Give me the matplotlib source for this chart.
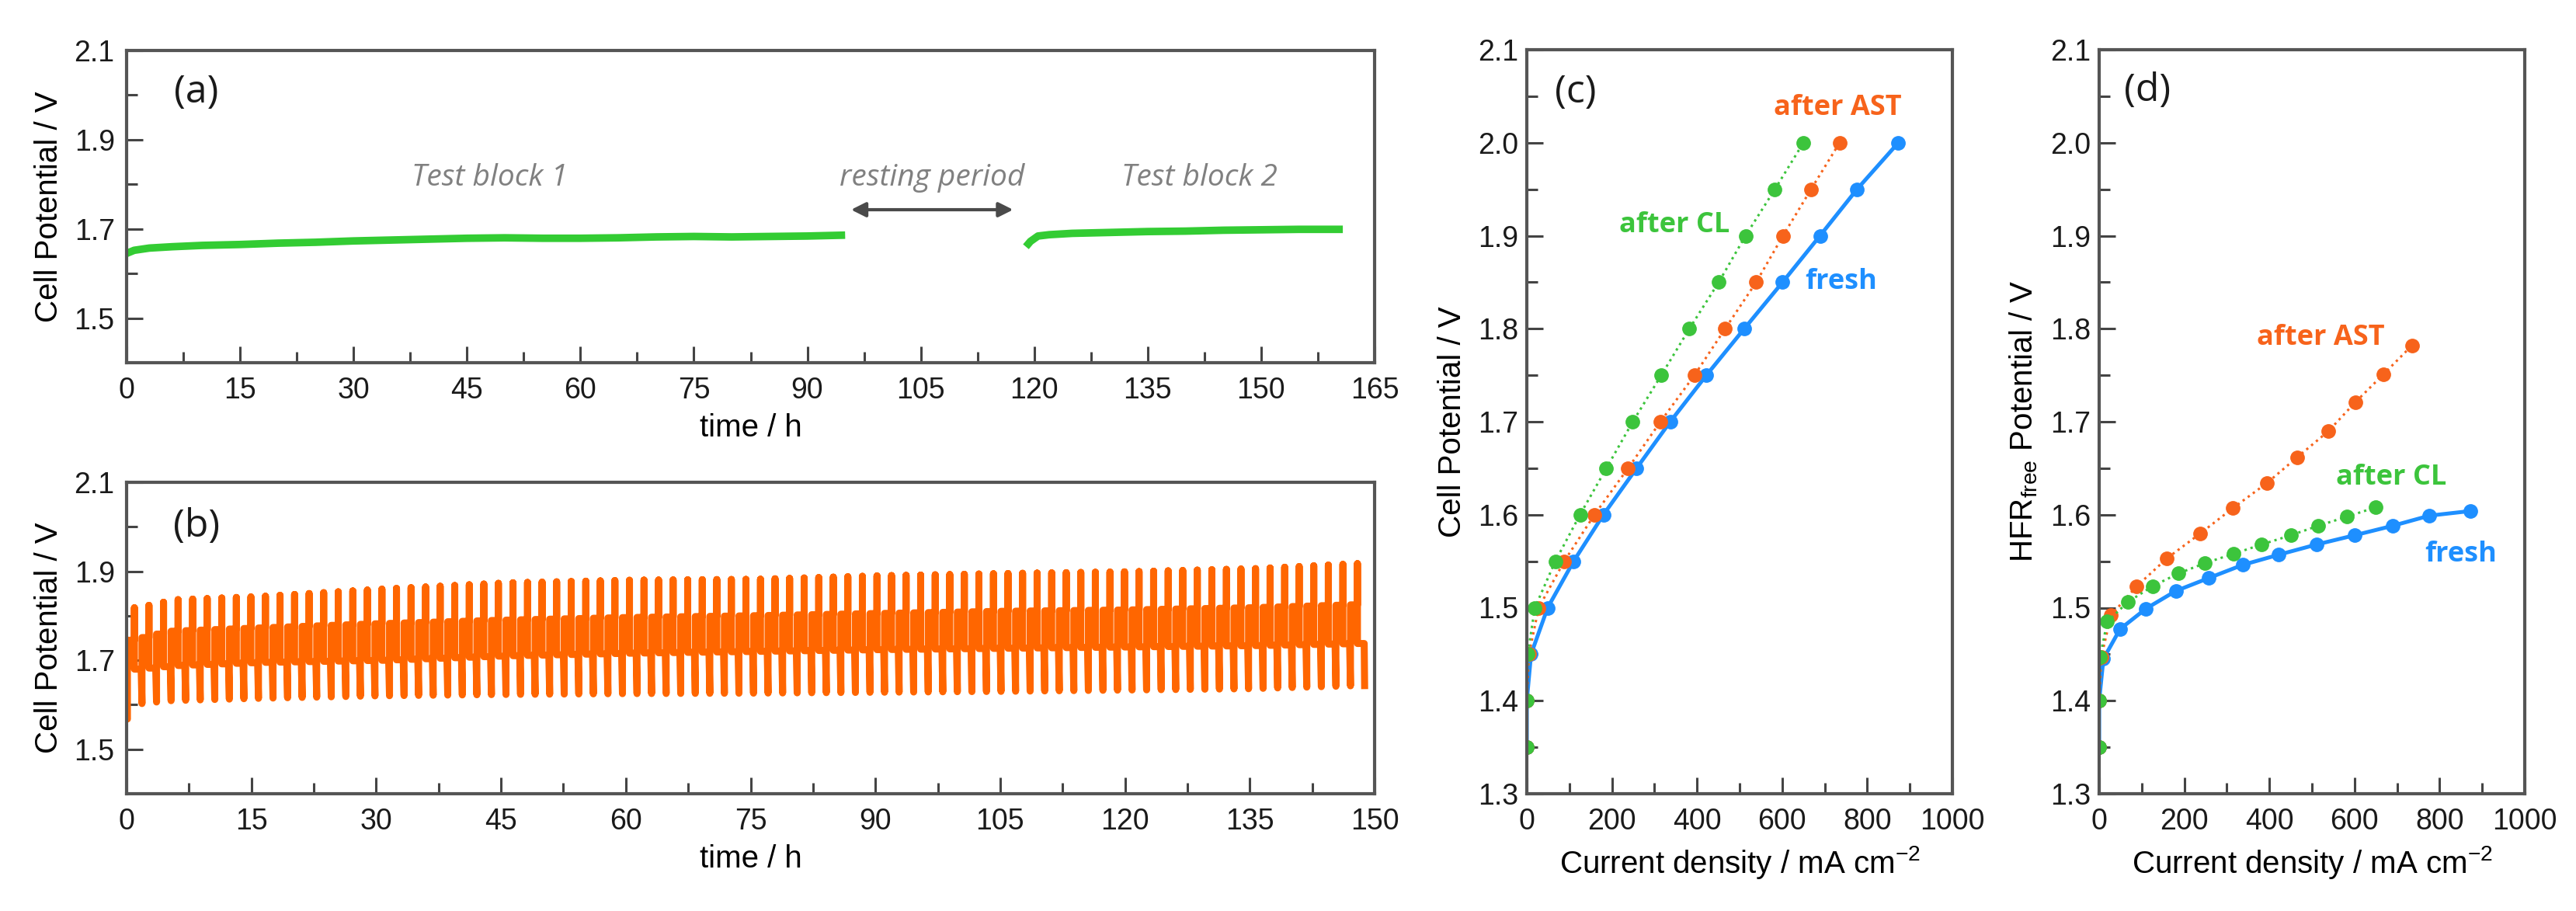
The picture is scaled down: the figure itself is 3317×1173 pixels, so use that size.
import numpy as np
import matplotlib
matplotlib.use("Agg")
import matplotlib.pyplot as plt
from matplotlib.ticker import MultipleLocator, FormatStrFormatter

plt.rcParams['font.family'] = ['Liberation Sans', 'DejaVu Sans']
plt.rcParams['mathtext.default'] = 'regular'

# --- (a) continuous operation, two test blocks ---
t_block1 = [0, 1, 3, 6, 10, 15, 20, 25, 30, 35, 40, 45, 50, 55, 60, 65, 70, 75, 80, 85, 90, 95]
v_block1 = [1.645, 1.652, 1.657, 1.660, 1.663, 1.665, 1.668, 1.670, 1.673, 1.675, 1.677,
            1.679, 1.680, 1.679, 1.679, 1.680, 1.682, 1.683, 1.682, 1.683, 1.684, 1.686]
t_block2 = [118.9, 119.5, 120.5, 122, 125, 130, 135, 140, 145, 150, 155, 160.8]
v_block2 = [1.660, 1.672, 1.684, 1.687, 1.690, 1.692, 1.694, 1.695, 1.697, 1.698, 1.699, 1.699]

# --- (b) load cycling: levels of each cycle read at checkpoints ---
t_env = [0.5, 5, 15, 30, 45, 60, 75, 90, 105, 120, 135, 148]
v_high = [1.818, 1.836, 1.843, 1.860, 1.874, 1.880, 1.882, 1.890, 1.895, 1.899, 1.906, 1.918]
v_mid1 = [1.745, 1.765, 1.772, 1.782, 1.790, 1.796, 1.800, 1.805, 1.810, 1.813, 1.818, 1.825]
v_mid2 = [1.680, 1.688, 1.695, 1.700, 1.710, 1.716, 1.720, 1.724, 1.727, 1.730, 1.733, 1.738]
v_low = [1.600, 1.609, 1.614, 1.620, 1.623, 1.625, 1.626, 1.628, 1.630, 1.633, 1.636, 1.643]
v_start = 1.568
cycle_period = 1.75
n_cycles = 85

# --- (c) polarisation curves ---
j_fresh = [0, 0, 10, 49, 110, 180, 258, 337, 422, 511, 601, 689, 776, 873]
j_ast = [0, 0, 5, 28, 88, 159, 238, 314, 394, 466, 539, 602, 668, 735]
j_cl = [0, 0, 2, 19, 67, 125, 187, 249, 316, 382, 451, 514, 583, 650]
v_cell = [1.35, 1.40, 1.45, 1.50, 1.55, 1.60, 1.65, 1.70, 1.75, 1.80, 1.85, 1.90, 1.95, 2.00]

# --- (d) HFR-free potential ---
v_hfr_fresh = [1.35, 1.40, 1.445, 1.477, 1.499, 1.518, 1.532, 1.546, 1.557, 1.568, 1.578, 1.588, 1.599, 1.604]
v_hfr_ast = [1.35, 1.40, 1.447, 1.492, 1.523, 1.553, 1.580, 1.607, 1.634, 1.662, 1.690, 1.721, 1.751, 1.782]
v_hfr_cl = [1.35, 1.40, 1.447, 1.485, 1.506, 1.523, 1.537, 1.548, 1.558, 1.568, 1.578, 1.588, 1.598, 1.608]

c_green = '#33cc33'
c_orange = '#ff6600'
c_orange2 = '#f7631b'
c_blue = '#1e8fff'
c_green2 = '#3cc43c'
c_spine = '#555555'
c_note = '#808080'

W, H = 3317, 1173
fig = plt.figure(figsize=(W / 100, H / 100), dpi=100)


def box(l, t, r, b):
    return [l / W, 1 - b / H, (r - l) / W, (b - t) / H]


ax_a = fig.add_axes(box(163, 65, 1770, 467))
ax_b = fig.add_axes(box(163, 621, 1770, 1022))
ax_c = fig.add_axes(box(1966, 64, 2514, 1022))
ax_d = fig.add_axes(box(2703, 64, 3251, 1022))


def style(ax, ypad):
    for sp in ax.spines.values():
        sp.set_color(c_spine)
        sp.set_linewidth(3)
    ax.tick_params(which='both', direction='in', top=False, right=False,
                   color='#444444', width=2.2, labelsize=27, labelcolor='#1a1a1a')
    ax.tick_params(axis='x', which='both', pad=13)
    ax.tick_params(axis='y', which='both', pad=ypad)
    ax.tick_params(which='major', length=15)
    ax.tick_params(which='minor', length=10)


# panel (a)
ax_a.plot(t_block1, v_block1, color=c_green, lw=7, solid_capstyle='butt')
ax_a.plot(t_block2, v_block2, color=c_green, lw=7, solid_capstyle='butt')
ax_a.annotate('', xy=(95.5, 1.743), xytext=(117.5, 1.743),
              arrowprops=dict(arrowstyle='<|-|>', color='#4a4a4a', lw=3, mutation_scale=28))
for x, s in [(48, 'Test block 1'), (106.5, 'resting period'), (141.8, 'Test block 2')]:
    ax_a.text(x, 1.815, s, fontsize=28, style='italic', color=c_note,
              family=['Open Sans', 'DejaVu Sans'], ha='center', va='center')
ax_a.set_xlim(0, 165)

# panel (b): build each cycle from its levels
t_b, v_b = [0.0], [v_start]
for k in range(n_cycles):
    t0 = 0.1 + k * cycle_period
    hi = np.interp(t0, t_env, v_high)
    m1 = np.interp(t0, t_env, v_mid1)
    m2 = np.interp(t0, t_env, v_mid2)
    lo = v_start if k == 0 else np.interp(t0, t_env, v_low)
    t_b += [t0, t0, t0 + 0.5, t0 + 0.84, t0 + 0.84, t0 + 0.84, t0 + 1.65]
    v_b += [lo, m1, m1, m1, hi, m2, m2]
t_b.append(148.8)
v_b.append(v_low[-1])
ax_b.plot(t_b, v_b, color=c_orange, lw=6.5, solid_joinstyle='round')
ax_b.set_xlim(0, 150)

for ax, lab in [(ax_a, '(a)'), (ax_b, '(b)')]:
    style(ax, 11)
    ax.set_ylim(1.4, 2.1)
    ax.set_yticks([1.5, 1.7, 1.9, 2.1])
    ax.set_yticks([1.6, 1.8, 2.0], minor=True)
    ax.yaxis.set_major_formatter(FormatStrFormatter('%.1f'))
    ax.xaxis.set_major_locator(MultipleLocator(15))
    ax.xaxis.set_minor_locator(MultipleLocator(7.5))
    ax.set_xlabel('time / h', fontsize=29, labelpad=8)
    ax.set_ylabel('Cell Potential / V', fontsize=29, labelpad=10)
    ax.text(0.056, 0.865 if lab == '(a)' else 0.858, lab, transform=ax.transAxes, fontsize=36,
            family=['Open Sans', 'DejaVu Sans'], ha='center', va='center', color='#1a1a1a')

# panels (c) and (d)
series_c = [(j_fresh, v_cell, c_blue, '-', 3.6), (j_ast, v_cell, c_orange2, ':', 2.2),
            (j_cl, v_cell, c_green2, ':', 2.2)]
series_d = [(j_fresh, v_hfr_fresh, c_blue, '-', 3.6), (j_ast, v_hfr_ast, c_orange2, ':', 2.2),
            (j_cl, v_hfr_cl, c_green2, ':', 2.2)]
for ax, series in [(ax_c, series_c), (ax_d, series_d)]:
    for x, y, c, ls, lw in series:
        ax.plot(x, y, color=c, ls=ls, lw=lw, marker='o', ms=12.5, mec=c, mfc=c)
    style(ax, 8)
    ax.set_xlim(0, 1000)
    ax.set_ylim(1.3, 2.1)
    ax.xaxis.set_major_locator(MultipleLocator(200))
    ax.xaxis.set_minor_locator(MultipleLocator(100))
    ax.yaxis.set_major_locator(MultipleLocator(0.1))
    ax.yaxis.set_minor_locator(MultipleLocator(0.05))
    ax.yaxis.set_major_formatter(FormatStrFormatter('%.1f'))
    ax.set_xlabel('Current density / mA cm$^{-2}$', fontsize=29, labelpad=8)

ax_c.set_ylabel('Cell Potential / V', fontsize=29, labelpad=10)
ax_d.set_ylabel('HFR$_{free}$ Potential / V', fontsize=29, labelpad=10)

ax_c.text(0.115, 0.942, '(c)', transform=ax_c.transAxes, fontsize=36,
          family=['Open Sans', 'DejaVu Sans'], ha='center', va='center', color='#1a1a1a')
ax_d.text(0.113, 0.944, '(d)', transform=ax_d.transAxes, fontsize=36,
          family=['Open Sans', 'DejaVu Sans'], ha='center', va='center', color='#1a1a1a')

notes_c = [(730, 2.037, 'after AST', c_orange2), (347, 1.911, 'after CL', c_green2),
           (739, 1.850, 'fresh', c_blue)]
notes_d = [(520, 1.790, 'after AST', c_orange2), (686, 1.640, 'after CL', c_green2),
           (850, 1.557, 'fresh', c_blue)]
for ax, notes in [(ax_c, notes_c), (ax_d, notes_d)]:
    for x, y, s, c in notes:
        ax.text(x, y, s, color=c, fontsize=26, fontweight='bold',
                family=['Open Sans', 'DejaVu Sans'], ha='center', va='center')

fig.savefig('out.png', dpi=100, facecolor='white')
